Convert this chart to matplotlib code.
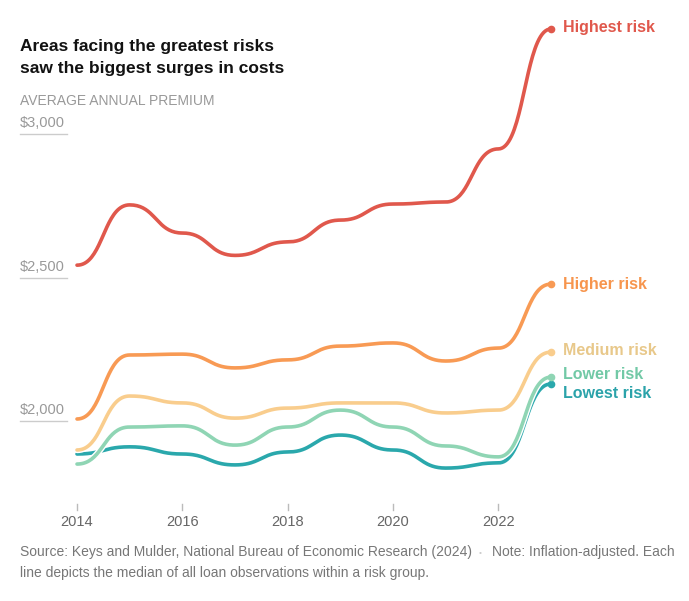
import numpy as np
import matplotlib
matplotlib.use("Agg")
import matplotlib.pyplot as plt
import matplotlib.patheffects as pe

plt.rcParams['font.family'] = ['Liberation Sans', 'DejaVu Sans']

###########################################
# data
###########################################
years = [2014, 2015, 2016, 2017, 2018, 2019, 2020, 2021, 2022, 2023]
highest = [2543, 2753, 2655, 2577, 2624, 2700, 2756, 2763, 2948, 3366]
higher = [2007, 2230, 2233, 2185, 2213, 2261, 2272, 2209, 2254, 2477]
medium = [1899, 2087, 2063, 2010, 2045, 2063, 2063, 2028, 2038, 2240]
lower = [1850, 1979, 1983, 1916, 1979, 2038, 1979, 1913, 1875, 2153]
lowest = [1885, 1910, 1885, 1847, 1892, 1951, 1899, 1836, 1854, 2129]

names = ['Highest risk', 'Higher risk', 'Medium risk', 'Lower risk', 'Lowest risk']
series = [highest, higher, medium, lower, lowest]
line_colors = ['#e0584c', '#f89a54', '#f9cd8d', '#8fd5b4', '#2aa8ac']
label_colors = ['#e0584c', '#f7954d', '#e8c88a', '#72c9a6', '#2ba3aa']
label_offsets = [-1, 0, -2, -3, 10]   # px nudge of the end labels

y_ticks = [2000, 2500, 3000]
y_tick_labels = ['$2,000', '$2,500', '$3,000']
x_ticks = [2014, 2016, 2018, 2020, 2022]


def bump_x(x, y, n=40):
    # like d3.curveBumpX: flat at every point, S-shaped between
    xs, ys = [], []
    u = np.linspace(0, 1, n)
    for i in range(len(x) - 1):
        x0, x1, y0, y1 = x[i], x[i + 1], y[i], y[i + 1]
        xm = (x0 + x1) / 2
        bx = (1 - u)**3 * x0 + 3 * (1 - u)**2 * u * xm + 3 * (1 - u) * u**2 * xm + u**3 * x1
        by = (1 - u)**3 * y0 + 3 * (1 - u)**2 * u * y0 + 3 * (1 - u) * u**2 * y1 + u**3 * y1
        xs.append(bx)
        ys.append(by)
    return np.concatenate(xs), np.concatenate(ys)


W, H = 689, 601
fig = plt.figure(figsize=(W / 100, H / 100), dpi=100)
ax = fig.add_axes([0, 0, 1, 1])
ax.axis('off')

# pixel mapping: 2014 -> x 77, 2023 -> x 551 ; $2,000 -> y 421, $3,000 -> y 134
px_per_year = (551 - 77) / 9.0
px_per_dollar = (421 - 134) / 1000.0
ax.set_xlim(2014 - 77 / px_per_year, 2014 + (W - 77) / px_per_year)
ax.set_ylim(2000 - (H - 421) / px_per_dollar, 2000 + 421 / px_per_dollar)


def px(xp, yp):
    return (xp / W, 1 - yp / H)


# y axis labels with short underline
for v, lab in zip(y_ticks, y_tick_labels):
    ax.plot([2014 - 57 / px_per_year, 2014 - 10 / px_per_year], [v, v], color='#cccccc', lw=1)
    ax.text(2014 - 57 / px_per_year, v + 4 / px_per_dollar, lab, fontsize=10.5, color='#999999',
            ha='left', va='bottom')

# x ticks
y_tick_top = 2000 - (504 - 421) / px_per_dollar
y_tick_bot = 2000 - (510 - 421) / px_per_dollar
for yr in x_ticks:
    ax.plot([yr, yr], [y_tick_top, y_tick_bot], color='#bbbbbb', lw=1)
    ax.text(yr, 2000 - (515 - 421) / px_per_dollar, str(yr), fontsize=10.5, color='#666666',
            ha='center', va='top')

# lines, bottom group first
for name, vals, lc, tc, off in reversed(list(zip(names, series, line_colors, label_colors, label_offsets))):
    xs, ys = bump_x(years, vals)
    ax.plot(xs, ys, color=lc, lw=2.6, solid_capstyle='round',
            path_effects=[pe.Stroke(linewidth=4.6, foreground='white'), pe.Normal()])
    ax.plot([years[-1]], [vals[-1]], 'o', color=lc, ms=4.5)
    ax.text(years[-1] + 12 / px_per_year, vals[-1] - off / px_per_dollar, name, fontsize=11.5,
            fontweight='bold', color=tc, ha='left', va='center')

# titles
fig.text(*px(20, 51), 'Areas facing the greatest risks', fontsize=12.5, fontweight='bold',
         color='#121212', ha='left', va='baseline')
fig.text(*px(20, 73), 'saw the biggest surges in costs', fontsize=12.5, fontweight='bold',
         color='#121212', ha='left', va='baseline')
fig.text(*px(20, 105), 'AVERAGE ANNUAL PREMIUM', fontsize=10, color='#999999', ha='left', va='baseline')

# source / note
fig.text(*px(20, 556), 'Source: Keys and Mulder, National Bureau of Economic Research (2024)',
         fontsize=10, color='#777777', ha='left', va='baseline')
fig.text(*px(479, 555), '\u2022', fontsize=6, color='#cccccc', ha='left', va='baseline')
fig.text(*px(492, 556), 'Note: Inflation-adjusted. Each', fontsize=10, color='#777777',
         ha='left', va='baseline')
fig.text(*px(20, 577), 'line depicts the median of all loan observations within a risk group.',
         fontsize=10, color='#777777', ha='left', va='baseline')

fig.savefig('out.png', dpi=100, facecolor='white')
